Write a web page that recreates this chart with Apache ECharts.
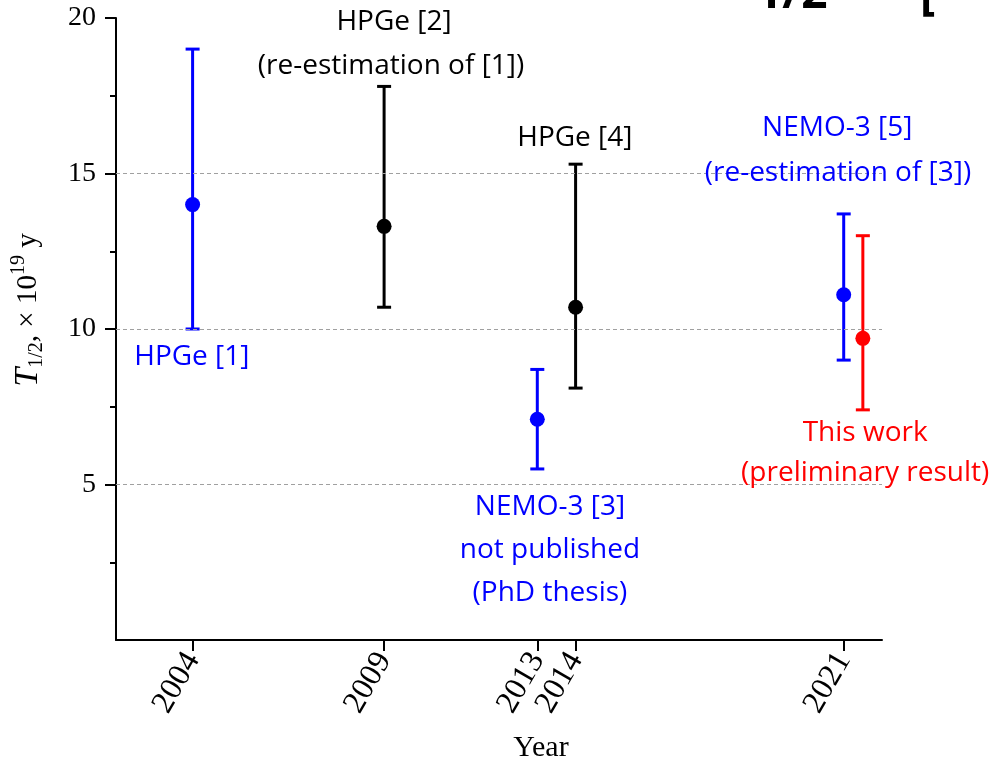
<!DOCTYPE html>
<html><head><meta charset="utf-8">
<script src="https://cdn.jsdelivr.net/npm/echarts@6/dist/echarts.min.js"></script>
<style>html,body{margin:0;padding:0;background:#fff}#c{width:992px;height:761px}</style>
</head><body><div id="c"></div>
<script>
// ---- data ----
const years = [2004, 2009, 2013, 2014, 2021, 2021.5];
const values = [14.0, 13.3, 7.1, 10.7, 11.1, 9.7];
const lows = [10.0, 10.7, 5.5, 8.1, 9.0, 7.4];
const highs = [19.0, 17.8, 8.7, 15.3, 13.7, 13.0];
const groups = ['blue', 'black', 'blue', 'black', 'blue', 'red'];
const xTickLabels = [2004, 2009, 2013, 2014, 2021];
const yTickLabels = [5, 10, 15, 20];
const gridValues = [5, 10, 15];
const annotationTexts = ['HPGe [2]', '(re-estimation of [1])', 'HPGe [4]', 'HPGe [1]',
  'NEMO-3 [3]', 'not published', '(PhD thesis)',
  'NEMO-3 [5]', '(re-estimation of [3])', 'This work', '(preliminary result)'];
const annotationYears = [2009.26, 2009.18, 2013.98, 2003.98, 2013.33, 2013.33, 2013.33, 2020.83, 2020.85, 2021.56, 2021.56];
const annotationValues = [19.87, 18.46, 16.14, 9.10, 4.28, 2.89, 1.51, 16.46, 15.02, 6.66, 5.37];
const annotationGroups = ['black', 'black', 'black', 'blue', 'blue', 'blue', 'blue', 'blue', 'blue', 'red', 'red'];

// ---- styles ----
const palette = { blue: '#0000ff', black: '#000000', red: '#ff0000' };
const serif = 'Liberation Serif';
const sans = 'Open Sans';

const chart = echarts.init(document.getElementById('c'));
const option = {
  animation: false,
  backgroundColor: '#fff',
  grid: { left: 116, right: 110, top: 18, bottom: 121, containLabel: false },
  xAxis: {
    type: 'value', min: 2002, max: 2022,
    axisLine: { onZero: false, lineStyle: { color: '#000', width: 2 } },
    axisTick: { show: true, customValues: xTickLabels, length: 11, lineStyle: { color: '#000', width: 2 } },
    axisLabel: { customValues: xTickLabels, formatter: v => String(v), rotate: 60, margin: 15,
      fontFamily: serif, fontSize: 32, color: '#000' },
    splitLine: { show: false }
  },
  yAxis: {
    type: 'value', min: 0, max: 20, interval: 5,
    axisLine: { show: true, lineStyle: { color: '#000', width: 2 } },
    axisTick: { show: true, customValues: yTickLabels, length: 11, lineStyle: { color: '#000', width: 2 } },
    minorTick: { show: true, splitNumber: 2, length: 6, lineStyle: { color: '#000', width: 2 } },
    axisLabel: { customValues: yTickLabels, margin: 20, fontFamily: serif, fontSize: 28, color: '#000' },
    splitLine: { show: false }
  },
  graphic: [
    { type: 'text', x: 541, y: 748, silent: true,
      style: { text: 'Year', font: '30px "Liberation Serif"', fill: '#000', align: 'center', verticalAlign: 'middle' } },
    { type: 'text', x: 28, y: 310, rotation: Math.PI / 2, silent: true,
      style: {
        text: '{t|T}{s|1/2}{n|, × 10}{p|19}{n| y}', align: 'center', verticalAlign: 'middle',
        rich: {
          t: { fontFamily: serif, fontStyle: 'italic', fontSize: 34, fill: '#000', lineHeight: 38, verticalAlign: 'middle' },
          s: { fontFamily: serif, fontSize: 20, fill: '#000', lineHeight: 20, verticalAlign: 'bottom' },
          n: { fontFamily: serif, fontSize: 29, fill: '#000', lineHeight: 38, verticalAlign: 'middle' },
          p: { fontFamily: serif, fontSize: 20, fill: '#000', lineHeight: 20, verticalAlign: 'top' }
        }
      } },
    { type: 'text', x: 756, y: 18, silent: true,
      style: { text: '1/2', font: 'bold 46px "Open Sans"', fill: '#000', align: 'left', verticalAlign: 'bottom' } },
    { type: 'text', x: 920, y: 19, silent: true,
      style: { text: '[', font: 'bold 46px "Open Sans"', fill: '#000', align: 'left', verticalAlign: 'bottom' } }
  ],
  series: [
    {
      type: 'line', data: [], silent: true, z: 1,
      markLine: {
        silent: true, symbol: 'none', label: { show: false },
        lineStyle: { type: [4, 3], color: '#a0a0a0', width: 1 },
        data: gridValues.map(v => ({ yAxis: v }))
      }
    },
    {
      type: 'custom', z: 3, silent: true,
      encode: { x: 0, y: [1, 2] },
      data: years.map((x, i) => [x, lows[i], highs[i]]),
      renderItem: function (params, api) {
        const x = api.value(0);
        const pLo = api.coord([x, api.value(1)]);
        const pHi = api.coord([x, api.value(2)]);
        const color = palette[groups[params.dataIndex]];
        const st = { stroke: color, lineWidth: 3 };
        const cap = 7;
        return {
          type: 'group',
          children: [
            { type: 'line', shape: { x1: pLo[0], y1: pLo[1], x2: pHi[0], y2: pHi[1] }, style: st },
            { type: 'line', shape: { x1: pLo[0] - cap, y1: pLo[1], x2: pLo[0] + cap, y2: pLo[1] }, style: st },
            { type: 'line', shape: { x1: pHi[0] - cap, y1: pHi[1], x2: pHi[0] + cap, y2: pHi[1] }, style: st }
          ]
        };
      }
    },
    {
      type: 'scatter', z: 4, silent: true, symbol: 'circle', symbolSize: 15,
      itemStyle: { opacity: 1 },
      data: years.map((x, i) => ({ value: [x, values[i]], itemStyle: { color: palette[groups[i]], opacity: 1 } }))
    },
    {
      type: 'scatter', z: 5, silent: true, symbolSize: 0,
      itemStyle: { opacity: 1 },
      data: annotationTexts.map((t, i) => ({
        name: t, value: [annotationYears[i], annotationValues[i]],
        label: { color: palette[annotationGroups[i]] }
      })),
      label: {
        show: true, position: 'inside', formatter: p => p.name, opacity: 1,
        fontFamily: sans, fontSize: 28
      },
      labelLayout: { hideOverlap: false }
    }
  ]
};
chart.setOption(option);
</script>
</body></html>
